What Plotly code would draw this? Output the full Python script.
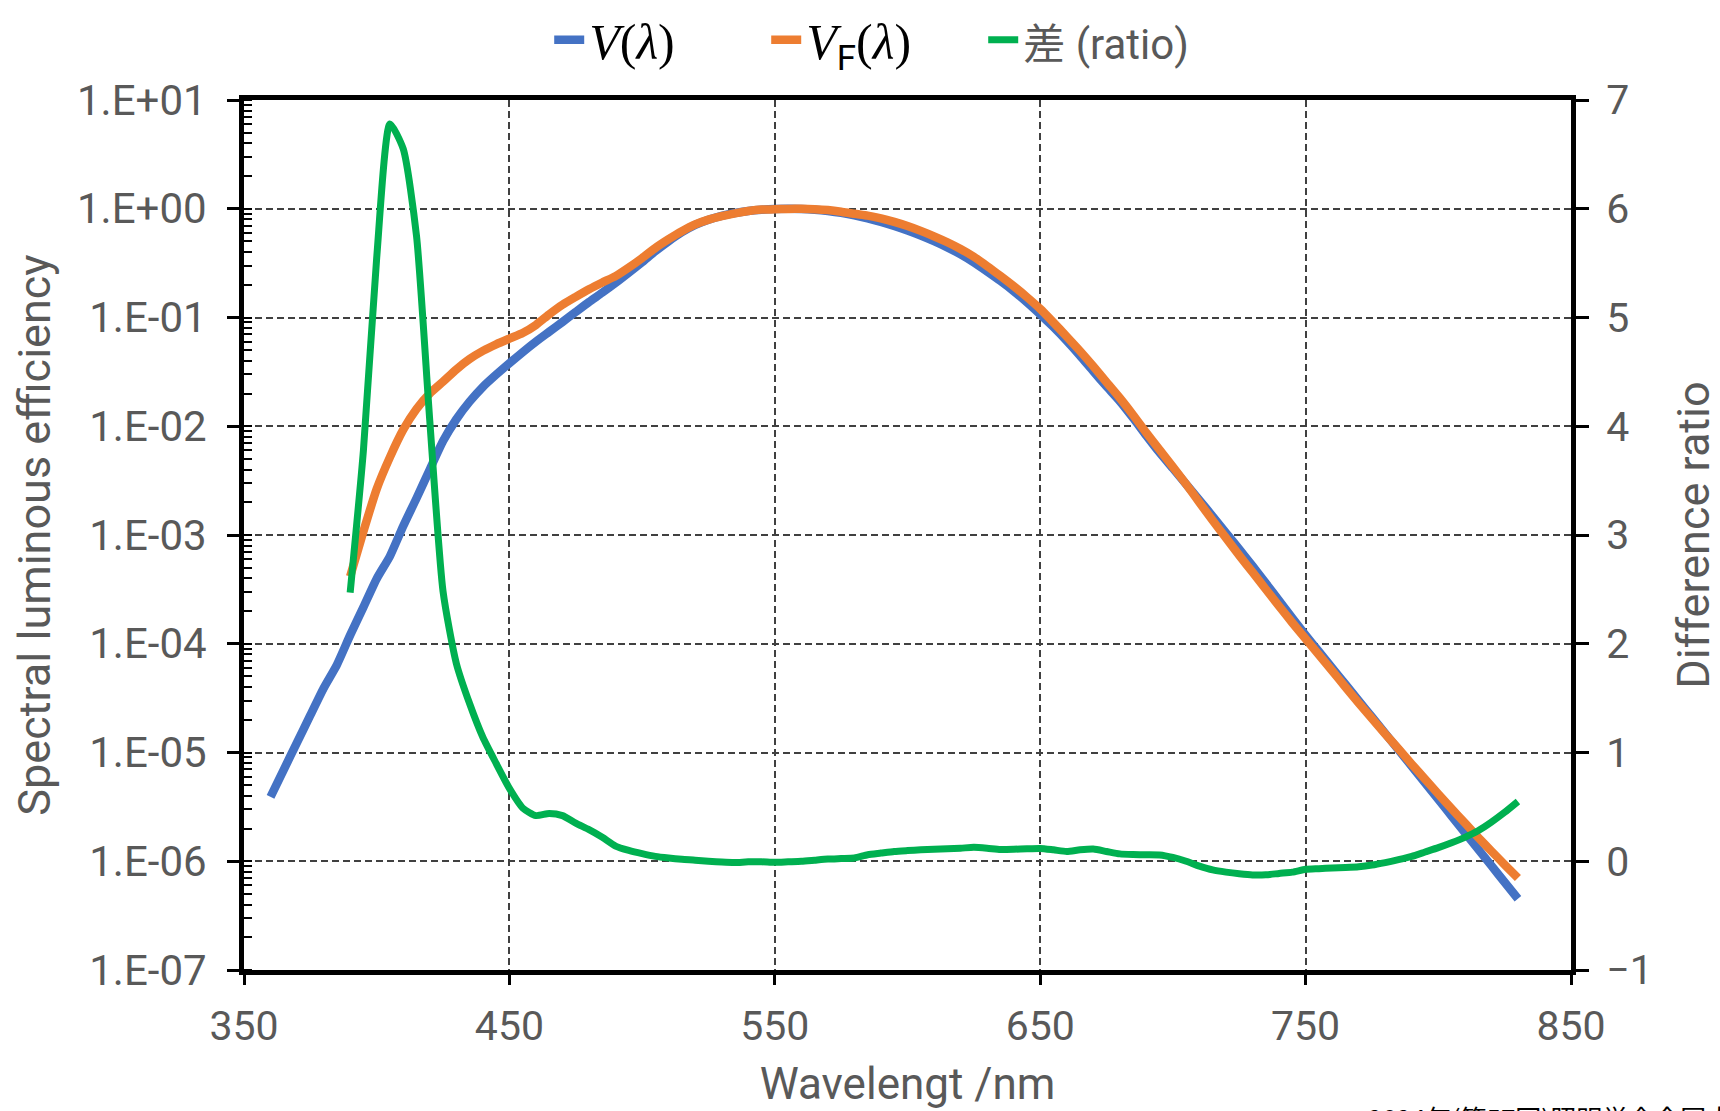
import plotly.graph_objects as go

# ---------------- data ----------------
wl_v = list(range(360, 835, 5))
v_lambda = [
    3.917e-6, 6.965e-6, 1.239e-5, 2.202e-5, 3.9e-5, 6.4e-5, 1.2e-4, 2.17e-4, 3.96e-4, 6.4e-4,
    1.21e-3, 2.18e-3, 4.0e-3, 7.3e-3, 1.16e-2, 1.684e-2, 2.3e-2, 2.98e-2, 3.8e-2, 4.8e-2,
    6.0e-2, 7.39e-2, 9.098e-2, 0.1126, 0.13902, 0.1693, 0.20802, 0.2586, 0.323, 0.4073,
    0.503, 0.6082, 0.71, 0.7932, 0.862, 0.91485, 0.954, 0.9803, 0.99495, 1.0,
    0.995, 0.9786, 0.952, 0.9154, 0.87, 0.8163, 0.757, 0.6949, 0.631, 0.5668,
    0.503, 0.4412, 0.381, 0.321, 0.265, 0.217, 0.175, 0.1382, 0.107, 0.0816,
    0.061, 0.04458, 0.032, 0.0232, 0.017, 0.01192, 0.00821, 0.005723, 0.004102, 0.002929,
    0.002091, 0.001484, 0.001047, 0.00074, 0.00052, 0.0003611, 0.0002492, 0.0001719, 0.00012, 8.48e-5,
    6.0e-5, 4.24e-5, 3.0e-5, 2.12e-5, 1.499e-5, 1.06e-5, 7.465e-6, 5.257e-6, 3.702e-6, 2.607e-6,
    1.836e-6, 1.293e-6, 9.1e-7, 6.41e-7, 4.52e-7,
]

wl_f = list(range(390, 835, 5))
vf_lambda = [
    4.15e-4, 1.08e-3, 2.65e-3, 5.2e-3, 9.3e-3, 1.44e-2, 2.0e-2, 2.57e-2, 3.33e-2, 4.15e-2,
    4.93e-2, 5.67e-2, 6.4e-2, 7.2e-2, 8.55e-2, 0.107, 0.131, 0.155, 0.182, 0.21,
    0.24, 0.288, 0.352, 0.436, 0.525, 0.622, 0.718, 0.795, 0.856, 0.908,
    0.952, 0.982, 0.988, 0.997, 0.998, 0.99, 0.973, 0.94, 0.898, 0.865,
    0.816, 0.757, 0.694, 0.626, 0.558, 0.492, 0.427, 0.362, 0.297, 0.241,
    0.194, 0.154, 0.12, 0.09, 0.0668, 0.0492, 0.0356, 0.0254, 0.0182, 0.0127,
    0.0087, 0.00605, 0.00424, 0.00293, 0.00199, 0.00136, 0.00094, 0.00065, 0.000455, 0.000317,
    0.000222, 0.000156, 0.000111, 7.92e-5, 5.64e-5, 4.0e-5, 2.85e-5, 2.05e-5, 1.48e-5, 1.08e-5,
    7.8e-6, 5.7e-6, 4.15e-6, 3.05e-6, 2.25e-6, 1.66e-6, 1.24e-6, 9.3e-7, 7.0e-7,
]

ratio = [
    2.47, 3.78, 5.55, 6.78, 6.55, 5.75, 4.05, 2.48, 1.82, 1.45,
    1.14, 0.90, 0.67, 0.49, 0.42, 0.44, 0.42, 0.35, 0.29, 0.22,
    0.14, 0.10, 0.07, 0.045, 0.03, 0.018, 0.01, 0.0, -0.008, -0.012,
    -0.005, -0.005, -0.01, -0.005, 0.0, 0.01, 0.02, 0.025, 0.03, 0.06,
    0.075, 0.09, 0.098, 0.105, 0.11, 0.115, 0.12, 0.128, 0.12, 0.108,
    0.11, 0.115, 0.118, 0.105, 0.09, 0.105, 0.112, 0.09, 0.068, 0.062,
    0.06, 0.058, 0.035, 0.0, -0.045, -0.08, -0.1, -0.115, -0.126, -0.125,
    -0.112, -0.1, -0.074, -0.068, -0.062, -0.057, -0.05, -0.035, -0.012, 0.015,
    0.045, 0.085, 0.125, 0.17, 0.22, 0.28, 0.36, 0.45, 0.55,
]

log_tickvals = [1e-7, 1e-6, 1e-5, 1e-4, 1e-3, 1e-2, 1e-1, 1e0, 1e1]
log_ticktext = ["1.E-07", "1.E-06", "1.E-05", "1.E-04", "1.E-03", "1.E-02", "1.E-01", "1.E+00", "1.E+01"]
ratio_ticks = [-1, 0, 1, 2, 3, 4, 5, 6, 7]
ratio_ticktext = ["\u22121", "0", "1", "2", "3", "4", "5", "6", "7"]
x_ticks = [350, 450, 550, 650, 750, 850]

BLUE = "#4472C4"
ORANGE = "#ED7D31"
GREEN = "#00B050"
GRAY = "#595959"
SANS = "Roboto, 'Noto Sans CJK JP', sans-serif"

fig = go.Figure()
fig.add_trace(go.Scatter(
    x=wl_v, y=v_lambda, mode="lines", name="<i>V</i>(<i>λ</i>)",
    line=dict(color=BLUE, width=8.5, shape="spline", smoothing=0.6),
))
fig.add_trace(go.Scatter(
    x=wl_f, y=vf_lambda, mode="lines",
    name="<i>V</i><sub><span style=\"font-family:Roboto\">F</span></sub>(<i>λ</i>)",
    line=dict(color=ORANGE, width=8.5, shape="spline", smoothing=0.6),
))
fig.add_trace(go.Scatter(
    x=wl_f, y=ratio, mode="lines", yaxis="y2",
    name="<span style=\"font-family:Roboto, 'Noto Sans CJK JP';color:#595959;font-size:42px\">差 (ratio)</span>",
    line=dict(color=GREEN, width=7, shape="spline", smoothing=0.6),
))

grid = dict(showgrid=True, gridcolor="#404040", gridwidth=1.5, griddash="7px,4px")

fig.update_layout(
    width=1720, height=1111,
    margin=dict(l=244, r=149, t=100, b=141, autoexpand=False),
    paper_bgcolor="white", plot_bgcolor="white",
    font=dict(family=SANS, color=GRAY, size=40),
    showlegend=True,
    legend=dict(
        orientation="h", x=0.23, xanchor="left", y=1.114, yanchor="top",
        font=dict(family="'Liberation Serif', 'Times New Roman', serif", size=50, color="black"),
        bgcolor="rgba(0,0,0,0)", entrywidth=172, entrywidthmode="pixels",
    ),
    xaxis=dict(
        range=[350, 850], tickvals=x_ticks, ticks="outside", ticklen=10, tickwidth=3,
        tickcolor="black", showline=True, linecolor="black", linewidth=5, mirror=True,
        tickfont=dict(size=41, color=GRAY, family=SANS), ticklabelstandoff=6,
        title=dict(text="Wavelengt /nm", font=dict(size=44, color=GRAY, family=SANS), standoff=20),
        zeroline=False, **grid,
    ),
    yaxis=dict(
        type="log", range=[-7, 1], tickvals=log_tickvals, ticktext=log_ticktext,
        ticks="outside", ticklen=12, tickwidth=3, tickcolor="black",
        minor=dict(ticks="inside", ticklen=8, tickwidth=2, tickcolor="black", dtick="D1", showgrid=False),
        showline=True, linecolor="black", linewidth=5, mirror=True,
        tickfont=dict(size=42, color=GRAY, family=SANS), ticklabelstandoff=12,
        title=dict(text="Spectral luminous efficiency", font=dict(size=45, color=GRAY, family=SANS), standoff=14),
        zeroline=False, **grid,
    ),
    yaxis2=dict(
        overlaying="y", side="right", range=[-1, 7], tickvals=ratio_ticks, ticktext=ratio_ticktext,
        ticks="outside", ticklen=13, tickwidth=2.5, tickcolor="black",
        showline=True, linecolor="black", linewidth=5, showgrid=False, zeroline=False,
        tickfont=dict(size=41, color=GRAY, family=SANS), ticklabelstandoff=9,
        title=dict(text="Difference ratio", font=dict(size=45, color=GRAY, family=SANS), standoff=36),
    ),
)

fig.add_annotation(
    text="2024年(第57回)照明学会全国大会", xref="paper", yref="paper",
    x=(1366 - 244) / 1327, y=(970 - 1097) / 870, xanchor="left", yanchor="top",
    showarrow=False, font=dict(family="'Noto Sans CJK JP', sans-serif", size=26, color="black"),
)

fig.write_html("out.html")
